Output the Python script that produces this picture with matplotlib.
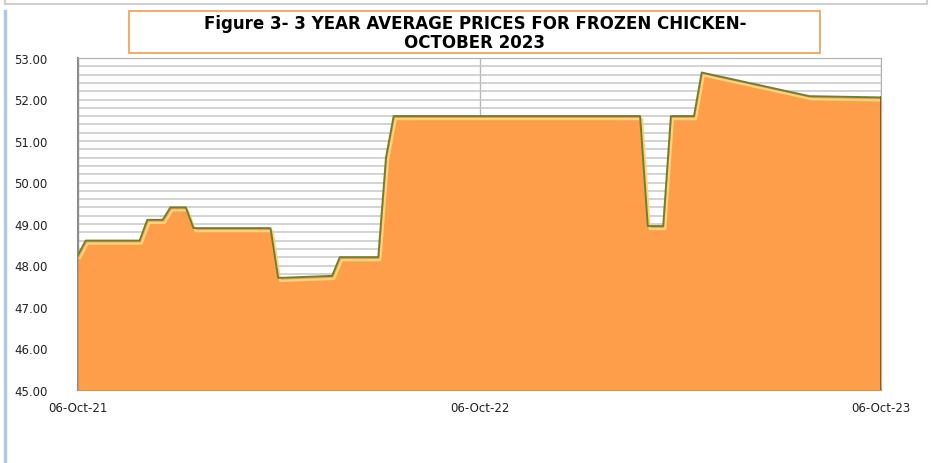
import matplotlib
matplotlib.use("Agg")
import matplotlib.pyplot as plt
import matplotlib.dates as mdates
import matplotlib.transforms as mtransforms
from matplotlib.patches import Rectangle
from matplotlib.lines import Line2D
import pandas as pd

# weekly price points where the series changes (R per kg)
dates = ["2021-10-06", "2021-10-13", "2021-12-01", "2021-12-08", "2021-12-22",
         "2021-12-29", "2022-01-12", "2022-01-19", "2022-03-30", "2022-04-06",
         "2022-05-25", "2022-06-01", "2022-07-06", "2022-07-13", "2022-07-20",
         "2023-03-01", "2023-03-08", "2023-03-22", "2023-03-29", "2023-04-19",
         "2023-04-26", "2023-08-02", "2023-10-06"]
prices = [48.25, 48.60, 48.60, 49.10, 49.10,
          49.40, 49.40, 48.90, 48.90, 47.70,
          47.75, 48.20, 48.20, 50.60, 51.60,
          51.60, 48.95, 48.95, 51.60, 51.60,
          52.65, 52.08, 52.05]

x_ticks = ["2021-10-06", "2022-10-06", "2023-10-06"]
title = "Figure 3- 3 YEAR AVERAGE PRICES FOR FROZEN CHICKEN-\nOCTOBER 2023"

x = pd.to_datetime(dates)
ticks = pd.to_datetime(x_ticks)

fig = plt.figure(figsize=(9.32, 4.64), dpi=100)
ax = fig.add_axes([78 / 932, 73 / 464, 803 / 932, 332 / 464])

# gridlines
ax.set_ylim(45, 53)
ax.set_xlim(ticks[0], ticks[-1])
ax.set_yticks([45 + i for i in range(9)])
ax.set_yticks([45 + i * 0.2 for i in range(41)], minor=True)
ax.set_xticks(ticks)
ax.xaxis.set_major_formatter(mdates.DateFormatter("%d-%b-%y"))
ax.grid(True, which="both", axis="y", color="#C8C8C8", linewidth=1.1)
ax.grid(True, which="major", axis="x", color="#B8B8B8", linewidth=1.0)
ax.set_axisbelow(True)

# area with a rough bevel look
ax.fill_between(x, prices, 45, color="#FF9E4A", zorder=3, linewidth=0)
shift = mtransforms.offset_copy(ax.transData, fig=fig, x=2, y=-3, units="dots")
ax.plot(x, prices, color="#FFD27A", linewidth=1.6, zorder=4, transform=shift)
ax.plot(x, prices, color="#6F7F2C", linewidth=1.4, zorder=5)
ax.plot([x[-1], x[-1]], [45, prices[-1]], color="#5A4420", linewidth=1.8, zorder=5)

for side in ["top", "right"]:
    ax.spines[side].set_color("#B0B0B0")
ax.spines["left"].set_color("#8C8C8C")
ax.spines["bottom"].set_color("#8C8C8C")
ax.spines["left"].set_linewidth(1.5)
ax.spines["bottom"].set_linewidth(1.5)

ax.tick_params(axis="both", which="both", length=0, labelsize=8.5, colors="#222222")
ax.tick_params(axis="y", pad=22)
ax.tick_params(axis="x", pad=8)
ax.yaxis.set_major_formatter(matplotlib.ticker.FormatStrFormatter("%.2f"))

# title box
fig.patches.append(Rectangle((129 / 932, 1 - 54 / 464), 691 / 932, 42 / 464,
                             transform=fig.transFigure, facecolor="white",
                             edgecolor="#F5A35C", linewidth=1.3))
fig.text(475 / 932, 1 - 33.5 / 464, title, ha="center", va="center",
         fontsize=12, fontweight="bold", family="DejaVu Sans", linespacing=1.12)

# page frame bits from the screenshot
fig.add_artist(Line2D([5 / 932, 927 / 932], [1 - 5 / 464, 1 - 5 / 464],
                      transform=fig.transFigure, color="#D0D0D0", linewidth=1.5))
fig.add_artist(Line2D([5 / 932, 5 / 932], [1 - 5 / 464, 1], transform=fig.transFigure,
                      color="#D0D0D0", linewidth=1.5))
fig.add_artist(Line2D([927 / 932, 927 / 932], [1 - 5 / 464, 1], transform=fig.transFigure,
                      color="#D0D0D0", linewidth=1.5))
fig.add_artist(Line2D([5 / 932, 5 / 932], [0, 1 - 12 / 464], transform=fig.transFigure,
                      color="#AFC8EA", linewidth=2.5))

fig.savefig("out.png", dpi=100)
